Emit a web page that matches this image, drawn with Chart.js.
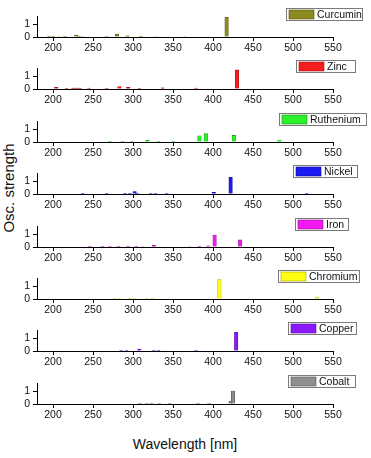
<!DOCTYPE html>
<html>
<head>
<meta charset="utf-8">
<script src="https://cdn.jsdelivr.net/npm/chart.js@4.4.1/dist/chart.umd.min.js"></script>
<style>
  html, body { margin: 0; padding: 0; background: #fff; }
  #wrap { position: relative; width: 371px; height: 458px; overflow: hidden; font-family: 'Liberation Sans', Arial, sans-serif; color: #111; }
  #wrap canvas { position: absolute; left: 0; }
  #ytitle { position: absolute; left: 8px; top: 188px; transform: translate(-50%, -50%) rotate(-90deg); font-size: 15px; white-space: nowrap; }
  #xtitle { position: absolute; left: 185px; top: 444px; transform: translate(-50%, -50%); font-size: 14px; white-space: nowrap; }
</style>
</head>
<body>
<div id="wrap">
  <div id="ytitle">Osc. strength</div>
  <div id="xtitle">Wavelength [nm]</div>
</div>
<script>
// tick labels
const xTicks = [200, 250, 300, 350, 400, 450, 500, 550];
const yTicks = [0, 0.5, 1, 1.5];

// samples, top to bottom
const samples = ['Curcumin', 'Zinc', 'Ruthenium', 'Nickel', 'Iron', 'Chromium', 'Copper', 'Cobalt'];

// wavelength [nm] and oscillator strength per sample
const curcuminNm = [195, 200, 208, 215, 229, 233, 238, 267, 280, 293, 310, 329, 365, 417];
const curcuminF  = [0.05, 0.05, 0.04, 0.03, 0.14, 0.06, 0.04, 0.03, 0.22, 0.1, 0.05, 0.04, 0.04, 1.53];

const zincNm = [204, 217, 225, 228, 231, 234, 245, 267, 283, 294, 308, 337, 379, 430];
const zincF  = [0.12, 0.03, 0.07, 0.08, 0.07, 0.05, 0.08, 0.03, 0.18, 0.12, 0.05, 0.1, 0.08, 1.49];

const rutheniumNm = [271, 287, 299, 318, 332, 350, 383, 391, 426, 483];
const rutheniumF  = [0.02, 0.03, 0.06, 0.12, 0.02, 0.06, 0.48, 0.66, 0.51, 0.15];

const nickelNm = [237, 267, 290, 296, 302, 305, 322, 328, 342, 401, 422, 517];
const nickelF  = [0.06, 0.02, 0.06, 0.03, 0.19, 0.03, 0.06, 0.02, 0.02, 0.13, 1.29, 0.01];

const ironNm = [246, 262, 271, 282, 294, 304, 312, 326, 371, 383, 394, 402, 434];
const ironF  = [0.01, 0.02, 0.02, 0.06, 0.07, 0.03, 0.04, 0.12, 0.04, 0.07, 0.1, 0.92, 0.55];

const chromiumNm = [277, 283, 296, 302, 317, 325, 408, 530];
const chromiumF  = [0.03, 0.02, 0.02, 0.01, 0.03, 0.03, 1.5, 0.15];

const copperNm = [285, 292, 308, 326, 332, 379, 429];
const copperF  = [0.07, 0.05, 0.14, 0.05, 0.02, 0.05, 1.45];

const cobaltNm = [309, 317, 323, 333, 346, 381, 395, 422, 425];
const cobaltF  = [0.05, 0.05, 0.07, 0.05, 0.03, 0.01, 0.08, 0.22, 1.0];

const seriesNm = [curcuminNm, zincNm, rutheniumNm, nickelNm, ironNm, chromiumNm, copperNm, cobaltNm];
const seriesF  = [curcuminF, zincF, rutheniumF, nickelF, ironF, chromiumF, copperF, cobaltF];

// styles
const fills   = ['#8c8a1e', '#f51d1d', '#2cf02c', '#1a1af2', '#f21af2', '#ffff14', '#8c1aff', '#8f8f8f'];
const borders = ['#55540e', '#a01010', '#169016', '#0c0c90', '#901090', '#a0a000', '#50109a', '#505050'];
const legendLeft  = [286, 296, 279, 293, 295, 278, 288, 288];
const legendRight = [363, 356, 367, 358, 349, 360, 357, 356];

const FONT = "'Liberation Sans', Arial, sans-serif";
const PANEL_H = 52;
const PANEL_GAP = 52.4;
const FIRST_AXIS = 37;

// legend box drawn in the top right of each panel
const legendBox = {
    id: 'legendBox',
    afterDraw(chart, args, opts) {
        const ctx = chart.ctx;
        const ds = chart.data.datasets[0];
        const x = opts.left, y = 1, w = opts.right - opts.left, h = 13;
        ctx.save();
        ctx.fillStyle = '#fff';
        ctx.fillRect(x, y, w, h);
        ctx.strokeStyle = '#7a7a7a';
        ctx.lineWidth = 1;
        ctx.strokeRect(x + 0.5, y + 0.5, w - 1, h - 1);
        ctx.fillStyle = ds.backgroundColor;
        ctx.fillRect(x + 3, y + 2, 25, h - 4);
        ctx.strokeStyle = ds.borderColor;
        ctx.lineWidth = 0.6;
        ctx.strokeRect(x + 3, y + 2, 25, h - 4);
        ctx.fillStyle = '#111';
        ctx.font = '10.5px ' + FONT;
        ctx.textBaseline = 'middle';
        ctx.fillText(ds.label, x + 31, y + h / 2 + 0.5);
        ctx.restore();
    }
};

const wrap = document.getElementById('wrap');

samples.forEach((name, i) => {
    const canvas = document.createElement('canvas');
    canvas.width = 371;
    canvas.height = PANEL_H;
    canvas.style.top = (FIRST_AXIS + PANEL_GAP * i - 30) + 'px';
    wrap.appendChild(canvas);

    new Chart(canvas, {
        type: 'bar',
        data: {
            datasets: [{
                label: name,
                data: seriesNm[i].map((nm, k) => ({ x: nm, y: seriesF[i][k] })),
                backgroundColor: fills[i],
                borderColor: borders[i],
                borderWidth: 0.6,
                barThickness: 3.5
            }]
        },
        options: {
            responsive: false,
            animation: false,
            devicePixelRatio: 1,
            layout: { padding: { top: 4, right: 38, left: 0, bottom: 0 } },
            plugins: {
                legend: { display: false },
                tooltip: { enabled: false },
                legendBox: { left: legendLeft[i], right: legendRight[i] }
            },
            scales: {
                x: {
                    type: 'linear',
                    min: 180,
                    max: 550,
                    offset: false,
                    afterBuildTicks: s => { s.ticks = xTicks.map(v => ({ value: v })); },
                    afterFit: s => { s.height = 22; },
                    grid: { offset: false, drawOnChartArea: false, tickLength: 4, color: '#000' },
                    border: { color: '#000', width: 1 },
                    ticks: { font: { family: FONT, size: 10.5 }, color: '#111', padding: 1, maxRotation: 0 }
                },
                y: {
                    min: 0,
                    max: 1.6,
                    afterBuildTicks: s => { s.ticks = yTicks.map(v => ({ value: v })); },
                    afterFit: s => { s.width = 37; },
                    grid: { drawOnChartArea: false, tickLength: 4, color: '#000' },
                    border: { color: '#000', width: 1 },
                    ticks: {
                        font: { family: FONT, size: 10.5 },
                        color: '#111',
                        padding: 3,
                        callback: v => (v === 0 || v === 1) ? String(v) : ''
                    }
                }
            }
        },
        plugins: [legendBox]
    });
});
</script>
</body>
</html>
